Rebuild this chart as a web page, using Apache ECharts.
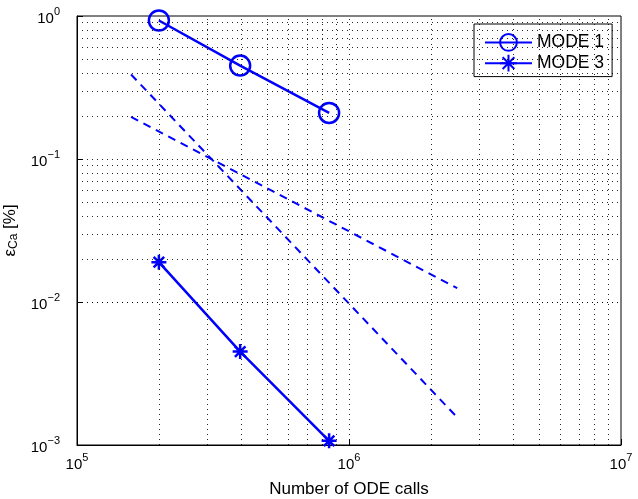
<!DOCTYPE html>
<html>
<head>
<meta charset="utf-8">
<script src="https://cdn.jsdelivr.net/npm/echarts@6/dist/echarts.min.js"></script>
<style>
  html, body { margin: 0; padding: 0; background: #fff; }
  #chart { width: 638px; height: 499px; }
</style>
</head>
<body>
<div id="chart"></div>
<script>
/* ================================
   DATA
================================ */
const callsMode   = [2.0e5, 3.98e5, 8.45e5];
const errMode1    = [0.93, 0.45, 0.21];
const errMode3    = [0.019, 0.0045, 0.00107];

// reference slopes (dashed), order 1 and order 2
const refCalls    = [1.58e5, 2.5e6];
const refOrder1   = [0.197, 0.0125];
const refOrder2   = [0.39, 0.00156];

const xDecades = [1e5, 1e6];
const yDecades = [1e-3, 1e-2, 1e-1];

const FONT = "'Liberation Sans', Arial, Helvetica, sans-serif";
const BLUE = "#0000ff";

/* ================================
   GRID LINES (every 1..9 x 10^k)
================================ */
function gridValues(decades) {
  const out = [];
  decades.forEach(d => {
    for (let m = 1; m <= 9; m++) {
      if (m === 1 && d === decades[0]) continue;
      out.push(m * d);
    }
  });
  return out;
}
const xGrid = gridValues(xDecades);
const yGrid = gridValues(yDecades);

const gridLines = []
  .concat(xGrid.map(v => ({ xAxis: v })))
  .concat(yGrid.map(v => ({ yAxis: v })));

function powLabel(v) {
  const e = Math.round(Math.log10(v));
  return "{b|10}{s|" + (e < 0 ? "\u2212" + (-e) : e) + "}";
}
const powRich = {
  b: { fontSize: 15, fontFamily: FONT, color: "#000", lineHeight: 20, verticalAlign: "bottom" },
  s: { fontSize: 11, fontFamily: FONT, color: "#000", lineHeight: 10, verticalAlign: "top" }
};

const pts = (xs, ys) => xs.map((x, i) => [x, ys[i]]);

const asterisk = "path://M10 0 L10 20 M0 10 L20 10 M3 3 L17 17 M3 17 L17 3";

/* ================================
   CHART
================================ */
const chart = echarts.init(document.getElementById("chart"), null, { renderer: "canvas" });

chart.setOption({
  animation: false,
  backgroundColor: "#fff",
  grid: {
    left: 77, right: 17, top: 16, bottom: 54,
    containLabel: false, outerBoundsMode: "none",
    show: true, borderColor: "#000", borderWidth: 1, backgroundColor: "transparent"
  },
  legend: {
    data: ["MODE 1", "MODE 3"],
    orient: "vertical",
    left: 474, top: 24,
    itemWidth: 47, itemHeight: 21, itemGap: 2,
    padding: [9, 8, 4, 10],
    backgroundColor: "#fff",
    borderColor: "#000", borderWidth: 1,
    borderRadius: 0,
    textStyle: { fontFamily: FONT, fontSize: 17.5, color: "#000" }
  },
  xAxis: {
    type: "log", logBase: 10, min: 1e5, max: 1e7,
    name: "Number of ODE calls",
    nameLocation: "middle", nameGap: 36,
    nameTextStyle: { fontFamily: FONT, fontSize: 17, color: "#000" },
    axisLine: { show: true, lineStyle: { color: "#000", width: 1 } },
    axisTick: { show: true, inside: true, length: 6, lineStyle: { color: "#000" } },
    axisLabel: { formatter: powLabel, rich: powRich, margin: 7 },
    splitLine: { show: false }
  },
  yAxis: {
    type: "log", logBase: 10, min: 1e-3, max: 1,
    name: "{e|\u03b5}{c|Ca}{e| [%]}",
    nameLocation: "middle", nameGap: 51, nameRotate: 90,
    nameTextStyle: {
      rich: {
        e: { fontFamily: FONT, fontSize: 17, color: "#000", lineHeight: 20 },
        c: { fontFamily: FONT, fontSize: 12, color: "#000", lineHeight: 10, verticalAlign: "bottom" }
      }
    },
    axisLine: { show: true, lineStyle: { color: "#000", width: 1 } },
    axisTick: { show: true, inside: true, length: 6, lineStyle: { color: "#000" } },
    axisLabel: { formatter: powLabel, rich: powRich, margin: 17 },
    splitLine: { show: false }
  },
  series: [
    {
      // carrier for the dotted grid
      type: "line", data: [], silent: true,
      markLine: {
        silent: true, symbol: ["none", "none"], label: { show: false },
        lineStyle: { color: "#000", width: 1, type: [1, 4], opacity: 0.85 },
        data: gridLines
      }
    },
    {
      type: "line", data: pts(refCalls, refOrder2), showSymbol: false, silent: true,
      lineStyle: { color: BLUE, width: 2, type: [8, 6] }
    },
    {
      type: "line", data: pts(refCalls, refOrder1), showSymbol: false, silent: true,
      lineStyle: { color: BLUE, width: 2, type: [8, 6] }
    },
    {
      name: "MODE 1", type: "line", data: pts(callsMode, errMode1),
      symbol: "circle", symbolSize: 20,
      lineStyle: { color: BLUE, width: 2.5 },
      itemStyle: { color: "transparent", borderColor: BLUE, borderWidth: 2.5 }
    },
    {
      name: "MODE 3", type: "line", data: pts(callsMode, errMode3),
      symbol: asterisk, symbolSize: 15,
      lineStyle: { color: BLUE, width: 2.5 },
      itemStyle: { color: BLUE, borderColor: BLUE, borderWidth: 2.5 }
    }
  ]
});
</script>
</body>
</html>
